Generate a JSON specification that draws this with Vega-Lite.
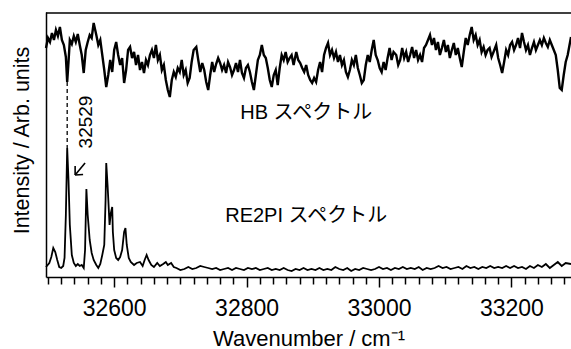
{
  "$schema": "https://vega.github.io/schema/vega-lite/v6.json",
  "width": 525,
  "height": 265,
  "autosize": {"type": "none"},
  "padding": {"left": 46, "top": 12, "right": 0, "bottom": 72},
  "background": "white",
  "config": {
    "view": {"stroke": null},
    "font": "Liberation Sans, Noto Sans CJK JP",
    "axis": {"grid": false, "labelColor": "black", "titleColor": "black", "tickColor": "black", "domainColor": "black", "titleFontWeight": "normal", "labelFont": "Liberation Sans", "titleFont": "Liberation Sans"}
  },
  "datasets": {
    "hb": [
      {"wavenumber": 32497, "intensity": 229}, {"wavenumber": 32500, "intensity": 239}, {"wavenumber": 32503, "intensity": 235}, {"wavenumber": 32506, "intensity": 244},
      {"wavenumber": 32509, "intensity": 237}, {"wavenumber": 32512, "intensity": 247}, {"wavenumber": 32515, "intensity": 241}, {"wavenumber": 32518, "intensity": 250},
      {"wavenumber": 32521, "intensity": 237}, {"wavenumber": 32524, "intensity": 232}, {"wavenumber": 32527, "intensity": 220}, {"wavenumber": 32529, "intensity": 195},
      {"wavenumber": 32531, "intensity": 215}, {"wavenumber": 32533, "intensity": 237}, {"wavenumber": 32536, "intensity": 233}, {"wavenumber": 32539, "intensity": 241},
      {"wavenumber": 32542, "intensity": 235}, {"wavenumber": 32545, "intensity": 243}, {"wavenumber": 32548, "intensity": 232}, {"wavenumber": 32551, "intensity": 222},
      {"wavenumber": 32554, "intensity": 204}, {"wavenumber": 32557, "intensity": 227}, {"wavenumber": 32560, "intensity": 235}, {"wavenumber": 32563, "intensity": 242},
      {"wavenumber": 32566, "intensity": 239}, {"wavenumber": 32569, "intensity": 254}, {"wavenumber": 32573, "intensity": 242}, {"wavenumber": 32576, "intensity": 232},
      {"wavenumber": 32579, "intensity": 237}, {"wavenumber": 32582, "intensity": 222}, {"wavenumber": 32585, "intensity": 207}, {"wavenumber": 32588, "intensity": 190},
      {"wavenumber": 32591, "intensity": 202}, {"wavenumber": 32594, "intensity": 217}, {"wavenumber": 32597, "intensity": 205}, {"wavenumber": 32600, "intensity": 227},
      {"wavenumber": 32603, "intensity": 235}, {"wavenumber": 32606, "intensity": 222}, {"wavenumber": 32609, "intensity": 212}, {"wavenumber": 32612, "intensity": 219},
      {"wavenumber": 32615, "intensity": 194}, {"wavenumber": 32618, "intensity": 207}, {"wavenumber": 32621, "intensity": 227}, {"wavenumber": 32624, "intensity": 230},
      {"wavenumber": 32627, "intensity": 219}, {"wavenumber": 32630, "intensity": 225}, {"wavenumber": 32633, "intensity": 212}, {"wavenumber": 32636, "intensity": 222},
      {"wavenumber": 32639, "intensity": 207}, {"wavenumber": 32642, "intensity": 215}, {"wavenumber": 32645, "intensity": 204}, {"wavenumber": 32648, "intensity": 217},
      {"wavenumber": 32651, "intensity": 212}, {"wavenumber": 32654, "intensity": 222}, {"wavenumber": 32657, "intensity": 227}, {"wavenumber": 32660, "intensity": 219},
      {"wavenumber": 32663, "intensity": 232}, {"wavenumber": 32666, "intensity": 217}, {"wavenumber": 32669, "intensity": 222}, {"wavenumber": 32672, "intensity": 207},
      {"wavenumber": 32675, "intensity": 212}, {"wavenumber": 32678, "intensity": 197}, {"wavenumber": 32681, "intensity": 187}, {"wavenumber": 32684, "intensity": 180},
      {"wavenumber": 32687, "intensity": 197}, {"wavenumber": 32690, "intensity": 205}, {"wavenumber": 32693, "intensity": 200}, {"wavenumber": 32696, "intensity": 209},
      {"wavenumber": 32699, "intensity": 205}, {"wavenumber": 32702, "intensity": 217}, {"wavenumber": 32705, "intensity": 202}, {"wavenumber": 32708, "intensity": 207},
      {"wavenumber": 32711, "intensity": 194}, {"wavenumber": 32714, "intensity": 199}, {"wavenumber": 32717, "intensity": 215}, {"wavenumber": 32720, "intensity": 227},
      {"wavenumber": 32724, "intensity": 230}, {"wavenumber": 32727, "intensity": 217}, {"wavenumber": 32730, "intensity": 205}, {"wavenumber": 32733, "intensity": 214},
      {"wavenumber": 32736, "intensity": 207}, {"wavenumber": 32739, "intensity": 195}, {"wavenumber": 32742, "intensity": 187}, {"wavenumber": 32745, "intensity": 202},
      {"wavenumber": 32748, "intensity": 215}, {"wavenumber": 32751, "intensity": 205}, {"wavenumber": 32754, "intensity": 213}, {"wavenumber": 32757, "intensity": 219},
      {"wavenumber": 32760, "intensity": 214}, {"wavenumber": 32763, "intensity": 207}, {"wavenumber": 32766, "intensity": 212}, {"wavenumber": 32769, "intensity": 204},
      {"wavenumber": 32772, "intensity": 215}, {"wavenumber": 32775, "intensity": 210}, {"wavenumber": 32778, "intensity": 202}, {"wavenumber": 32781, "intensity": 207},
      {"wavenumber": 32784, "intensity": 214}, {"wavenumber": 32787, "intensity": 205}, {"wavenumber": 32790, "intensity": 217}, {"wavenumber": 32793, "intensity": 204},
      {"wavenumber": 32796, "intensity": 199}, {"wavenumber": 32799, "intensity": 209}, {"wavenumber": 32802, "intensity": 212}, {"wavenumber": 32805, "intensity": 205},
      {"wavenumber": 32808, "intensity": 195}, {"wavenumber": 32811, "intensity": 187}, {"wavenumber": 32814, "intensity": 202}, {"wavenumber": 32817, "intensity": 217},
      {"wavenumber": 32820, "intensity": 222}, {"wavenumber": 32823, "intensity": 232}, {"wavenumber": 32826, "intensity": 222}, {"wavenumber": 32829, "intensity": 219},
      {"wavenumber": 32832, "intensity": 209}, {"wavenumber": 32835, "intensity": 197}, {"wavenumber": 32838, "intensity": 190}, {"wavenumber": 32841, "intensity": 202},
      {"wavenumber": 32844, "intensity": 207}, {"wavenumber": 32847, "intensity": 192}, {"wavenumber": 32850, "intensity": 209}, {"wavenumber": 32853, "intensity": 222},
      {"wavenumber": 32856, "intensity": 217}, {"wavenumber": 32859, "intensity": 225}, {"wavenumber": 32862, "intensity": 215}, {"wavenumber": 32865, "intensity": 219},
      {"wavenumber": 32868, "intensity": 222}, {"wavenumber": 32871, "intensity": 212}, {"wavenumber": 32875, "intensity": 225}, {"wavenumber": 32878, "intensity": 217},
      {"wavenumber": 32881, "intensity": 214}, {"wavenumber": 32884, "intensity": 209}, {"wavenumber": 32887, "intensity": 205}, {"wavenumber": 32890, "intensity": 212},
      {"wavenumber": 32893, "intensity": 202}, {"wavenumber": 32896, "intensity": 197}, {"wavenumber": 32899, "intensity": 194}, {"wavenumber": 32902, "intensity": 199},
      {"wavenumber": 32905, "intensity": 195}, {"wavenumber": 32908, "intensity": 207}, {"wavenumber": 32911, "intensity": 215}, {"wavenumber": 32914, "intensity": 205},
      {"wavenumber": 32917, "intensity": 222}, {"wavenumber": 32920, "intensity": 229}, {"wavenumber": 32923, "intensity": 234}, {"wavenumber": 32926, "intensity": 222},
      {"wavenumber": 32929, "intensity": 227}, {"wavenumber": 32932, "intensity": 219}, {"wavenumber": 32935, "intensity": 225}, {"wavenumber": 32938, "intensity": 215},
      {"wavenumber": 32941, "intensity": 222}, {"wavenumber": 32944, "intensity": 212}, {"wavenumber": 32947, "intensity": 217}, {"wavenumber": 32950, "intensity": 205},
      {"wavenumber": 32953, "intensity": 200}, {"wavenumber": 32956, "intensity": 207}, {"wavenumber": 32959, "intensity": 217}, {"wavenumber": 32962, "intensity": 212},
      {"wavenumber": 32965, "intensity": 222}, {"wavenumber": 32968, "intensity": 209}, {"wavenumber": 32971, "intensity": 202}, {"wavenumber": 32974, "intensity": 194},
      {"wavenumber": 32977, "intensity": 197}, {"wavenumber": 32980, "intensity": 212}, {"wavenumber": 32983, "intensity": 222}, {"wavenumber": 32986, "intensity": 215},
      {"wavenumber": 32989, "intensity": 227}, {"wavenumber": 32992, "intensity": 237}, {"wavenumber": 32995, "intensity": 222}, {"wavenumber": 32998, "intensity": 217},
      {"wavenumber": 33001, "intensity": 209}, {"wavenumber": 33004, "intensity": 205}, {"wavenumber": 33007, "intensity": 215}, {"wavenumber": 33010, "intensity": 207},
      {"wavenumber": 33013, "intensity": 219}, {"wavenumber": 33016, "intensity": 229}, {"wavenumber": 33019, "intensity": 217}, {"wavenumber": 33022, "intensity": 225},
      {"wavenumber": 33026, "intensity": 222}, {"wavenumber": 33029, "intensity": 212}, {"wavenumber": 33032, "intensity": 217}, {"wavenumber": 33035, "intensity": 229},
      {"wavenumber": 33038, "intensity": 219}, {"wavenumber": 33041, "intensity": 225}, {"wavenumber": 33044, "intensity": 215}, {"wavenumber": 33047, "intensity": 222},
      {"wavenumber": 33050, "intensity": 230}, {"wavenumber": 33053, "intensity": 219}, {"wavenumber": 33056, "intensity": 227}, {"wavenumber": 33059, "intensity": 217},
      {"wavenumber": 33062, "intensity": 222}, {"wavenumber": 33065, "intensity": 215}, {"wavenumber": 33068, "intensity": 229}, {"wavenumber": 33071, "intensity": 232},
      {"wavenumber": 33074, "intensity": 237}, {"wavenumber": 33077, "intensity": 242}, {"wavenumber": 33080, "intensity": 232}, {"wavenumber": 33083, "intensity": 239},
      {"wavenumber": 33086, "intensity": 227}, {"wavenumber": 33089, "intensity": 235}, {"wavenumber": 33092, "intensity": 222}, {"wavenumber": 33095, "intensity": 229},
      {"wavenumber": 33098, "intensity": 237}, {"wavenumber": 33101, "intensity": 225}, {"wavenumber": 33104, "intensity": 232}, {"wavenumber": 33107, "intensity": 219},
      {"wavenumber": 33110, "intensity": 227}, {"wavenumber": 33113, "intensity": 234}, {"wavenumber": 33116, "intensity": 222}, {"wavenumber": 33119, "intensity": 229},
      {"wavenumber": 33122, "intensity": 219}, {"wavenumber": 33125, "intensity": 210}, {"wavenumber": 33128, "intensity": 225}, {"wavenumber": 33131, "intensity": 239},
      {"wavenumber": 33134, "intensity": 232}, {"wavenumber": 33137, "intensity": 242}, {"wavenumber": 33140, "intensity": 250}, {"wavenumber": 33143, "intensity": 237},
      {"wavenumber": 33146, "intensity": 242}, {"wavenumber": 33149, "intensity": 232}, {"wavenumber": 33152, "intensity": 237}, {"wavenumber": 33155, "intensity": 225},
      {"wavenumber": 33158, "intensity": 230}, {"wavenumber": 33161, "intensity": 222}, {"wavenumber": 33164, "intensity": 227}, {"wavenumber": 33167, "intensity": 229},
      {"wavenumber": 33170, "intensity": 220}, {"wavenumber": 33173, "intensity": 225}, {"wavenumber": 33177, "intensity": 232}, {"wavenumber": 33180, "intensity": 219},
      {"wavenumber": 33183, "intensity": 212}, {"wavenumber": 33186, "intensity": 204}, {"wavenumber": 33189, "intensity": 215}, {"wavenumber": 33192, "intensity": 227},
      {"wavenumber": 33195, "intensity": 222}, {"wavenumber": 33198, "intensity": 232}, {"wavenumber": 33201, "intensity": 235}, {"wavenumber": 33204, "intensity": 227},
      {"wavenumber": 33207, "intensity": 232}, {"wavenumber": 33210, "intensity": 239}, {"wavenumber": 33213, "intensity": 229}, {"wavenumber": 33216, "intensity": 244},
      {"wavenumber": 33219, "intensity": 235}, {"wavenumber": 33222, "intensity": 227}, {"wavenumber": 33225, "intensity": 232}, {"wavenumber": 33228, "intensity": 222},
      {"wavenumber": 33231, "intensity": 229}, {"wavenumber": 33234, "intensity": 235}, {"wavenumber": 33237, "intensity": 227}, {"wavenumber": 33240, "intensity": 232},
      {"wavenumber": 33243, "intensity": 237}, {"wavenumber": 33246, "intensity": 232}, {"wavenumber": 33249, "intensity": 239}, {"wavenumber": 33252, "intensity": 234},
      {"wavenumber": 33255, "intensity": 230}, {"wavenumber": 33258, "intensity": 237}, {"wavenumber": 33261, "intensity": 232}, {"wavenumber": 33264, "intensity": 227},
      {"wavenumber": 33267, "intensity": 222}, {"wavenumber": 33270, "intensity": 207}, {"wavenumber": 33273, "intensity": 189}, {"wavenumber": 33276, "intensity": 187},
      {"wavenumber": 33279, "intensity": 202}, {"wavenumber": 33282, "intensity": 215}, {"wavenumber": 33285, "intensity": 222}, {"wavenumber": 33290, "intensity": 240}
    ],
    "re2pi": [
      {"wavenumber": 32497, "intensity": 10}, {"wavenumber": 32502, "intensity": 14}, {"wavenumber": 32505, "intensity": 20}, {"wavenumber": 32508, "intensity": 29},
      {"wavenumber": 32511, "intensity": 25}, {"wavenumber": 32514, "intensity": 17}, {"wavenumber": 32517, "intensity": 10}, {"wavenumber": 32520, "intensity": 9},
      {"wavenumber": 32523, "intensity": 11}, {"wavenumber": 32525, "intensity": 19}, {"wavenumber": 32527, "intensity": 62}, {"wavenumber": 32529, "intensity": 129},
      {"wavenumber": 32531, "intensity": 97}, {"wavenumber": 32533, "intensity": 52}, {"wavenumber": 32536, "intensity": 22}, {"wavenumber": 32539, "intensity": 14},
      {"wavenumber": 32542, "intensity": 11}, {"wavenumber": 32545, "intensity": 13}, {"wavenumber": 32548, "intensity": 11}, {"wavenumber": 32551, "intensity": 12},
      {"wavenumber": 32554, "intensity": 9}, {"wavenumber": 32556, "intensity": 27}, {"wavenumber": 32558, "intensity": 88}, {"wavenumber": 32560, "intensity": 62},
      {"wavenumber": 32563, "intensity": 37}, {"wavenumber": 32566, "intensity": 24}, {"wavenumber": 32569, "intensity": 17}, {"wavenumber": 32573, "intensity": 12},
      {"wavenumber": 32576, "intensity": 9}, {"wavenumber": 32579, "intensity": 13}, {"wavenumber": 32582, "intensity": 22}, {"wavenumber": 32585, "intensity": 32},
      {"wavenumber": 32587, "intensity": 77}, {"wavenumber": 32588, "intensity": 114}, {"wavenumber": 32590, "intensity": 92}, {"wavenumber": 32591, "intensity": 79},
      {"wavenumber": 32593, "intensity": 52}, {"wavenumber": 32595, "intensity": 64}, {"wavenumber": 32597, "intensity": 70}, {"wavenumber": 32598, "intensity": 45},
      {"wavenumber": 32600, "intensity": 27}, {"wavenumber": 32603, "intensity": 19}, {"wavenumber": 32606, "intensity": 17}, {"wavenumber": 32609, "intensity": 20},
      {"wavenumber": 32612, "intensity": 27}, {"wavenumber": 32615, "intensity": 45}, {"wavenumber": 32617, "intensity": 49}, {"wavenumber": 32619, "intensity": 32},
      {"wavenumber": 32622, "intensity": 19}, {"wavenumber": 32625, "intensity": 15}, {"wavenumber": 32630, "intensity": 12}, {"wavenumber": 32634, "intensity": 14},
      {"wavenumber": 32639, "intensity": 15}, {"wavenumber": 32643, "intensity": 11}, {"wavenumber": 32646, "intensity": 17}, {"wavenumber": 32649, "intensity": 22},
      {"wavenumber": 32652, "intensity": 17}, {"wavenumber": 32656, "intensity": 12}, {"wavenumber": 32660, "intensity": 10}, {"wavenumber": 32665, "intensity": 14},
      {"wavenumber": 32669, "intensity": 11}, {"wavenumber": 32674, "intensity": 13}, {"wavenumber": 32678, "intensity": 15}, {"wavenumber": 32681, "intensity": 12},
      {"wavenumber": 32686, "intensity": 14}, {"wavenumber": 32690, "intensity": 10}, {"wavenumber": 32694, "intensity": 9}, {"wavenumber": 32700, "intensity": 7},
      {"wavenumber": 32706, "intensity": 8}, {"wavenumber": 32712, "intensity": 10}, {"wavenumber": 32718, "intensity": 8}, {"wavenumber": 32724, "intensity": 9},
      {"wavenumber": 32730, "intensity": 11}, {"wavenumber": 32736, "intensity": 10}, {"wavenumber": 32742, "intensity": 9}, {"wavenumber": 32748, "intensity": 8},
      {"wavenumber": 32754, "intensity": 9}, {"wavenumber": 32760, "intensity": 7}, {"wavenumber": 32766, "intensity": 8}, {"wavenumber": 32772, "intensity": 9},
      {"wavenumber": 32778, "intensity": 7}, {"wavenumber": 32784, "intensity": 9}, {"wavenumber": 32790, "intensity": 8}, {"wavenumber": 32796, "intensity": 7},
      {"wavenumber": 32802, "intensity": 9}, {"wavenumber": 32808, "intensity": 8}, {"wavenumber": 32814, "intensity": 9}, {"wavenumber": 32820, "intensity": 7},
      {"wavenumber": 32826, "intensity": 8}, {"wavenumber": 32832, "intensity": 9}, {"wavenumber": 32838, "intensity": 7}, {"wavenumber": 32844, "intensity": 8},
      {"wavenumber": 32850, "intensity": 7}, {"wavenumber": 32856, "intensity": 9}, {"wavenumber": 32862, "intensity": 7}, {"wavenumber": 32868, "intensity": 6},
      {"wavenumber": 32874, "intensity": 8}, {"wavenumber": 32880, "intensity": 7}, {"wavenumber": 32886, "intensity": 9}, {"wavenumber": 32892, "intensity": 7},
      {"wavenumber": 32898, "intensity": 8}, {"wavenumber": 32904, "intensity": 7}, {"wavenumber": 32910, "intensity": 9}, {"wavenumber": 32916, "intensity": 7},
      {"wavenumber": 32922, "intensity": 8}, {"wavenumber": 32928, "intensity": 7}, {"wavenumber": 32934, "intensity": 10}, {"wavenumber": 32940, "intensity": 8},
      {"wavenumber": 32946, "intensity": 7}, {"wavenumber": 32952, "intensity": 9}, {"wavenumber": 32958, "intensity": 6}, {"wavenumber": 32964, "intensity": 8},
      {"wavenumber": 32970, "intensity": 7}, {"wavenumber": 32976, "intensity": 9}, {"wavenumber": 32982, "intensity": 8}, {"wavenumber": 32988, "intensity": 7},
      {"wavenumber": 32994, "intensity": 8}, {"wavenumber": 33000, "intensity": 10}, {"wavenumber": 33006, "intensity": 8}, {"wavenumber": 33012, "intensity": 9},
      {"wavenumber": 33018, "intensity": 7}, {"wavenumber": 33024, "intensity": 9}, {"wavenumber": 33030, "intensity": 8}, {"wavenumber": 33036, "intensity": 10},
      {"wavenumber": 33042, "intensity": 8}, {"wavenumber": 33048, "intensity": 9}, {"wavenumber": 33054, "intensity": 8}, {"wavenumber": 33060, "intensity": 10},
      {"wavenumber": 33066, "intensity": 7}, {"wavenumber": 33072, "intensity": 9}, {"wavenumber": 33078, "intensity": 8}, {"wavenumber": 33084, "intensity": 9},
      {"wavenumber": 33090, "intensity": 11}, {"wavenumber": 33096, "intensity": 9}, {"wavenumber": 33102, "intensity": 10}, {"wavenumber": 33108, "intensity": 8},
      {"wavenumber": 33114, "intensity": 9}, {"wavenumber": 33120, "intensity": 10}, {"wavenumber": 33126, "intensity": 8}, {"wavenumber": 33132, "intensity": 11},
      {"wavenumber": 33138, "intensity": 9}, {"wavenumber": 33144, "intensity": 10}, {"wavenumber": 33150, "intensity": 8}, {"wavenumber": 33156, "intensity": 10},
      {"wavenumber": 33162, "intensity": 9}, {"wavenumber": 33168, "intensity": 11}, {"wavenumber": 33174, "intensity": 9}, {"wavenumber": 33180, "intensity": 10},
      {"wavenumber": 33186, "intensity": 9}, {"wavenumber": 33192, "intensity": 11}, {"wavenumber": 33198, "intensity": 9}, {"wavenumber": 33204, "intensity": 11},
      {"wavenumber": 33210, "intensity": 9}, {"wavenumber": 33216, "intensity": 10}, {"wavenumber": 33222, "intensity": 8}, {"wavenumber": 33228, "intensity": 11},
      {"wavenumber": 33234, "intensity": 9}, {"wavenumber": 33240, "intensity": 12}, {"wavenumber": 33246, "intensity": 10}, {"wavenumber": 33252, "intensity": 13},
      {"wavenumber": 33258, "intensity": 9}, {"wavenumber": 33264, "intensity": 12}, {"wavenumber": 33270, "intensity": 15}, {"wavenumber": 33276, "intensity": 11},
      {"wavenumber": 33282, "intensity": 14}, {"wavenumber": 33290, "intensity": 13}
    ],
    "guides": [
      {"x": 32529, "y": 195, "x2": 32529, "y2": 129, "kind": "dashed"},
      {"x": 32556, "y": 114, "x2": 32541, "y2": 102, "kind": "arrow"},
      {"x": 32541, "y": 102, "x2": 32541, "y2": 111, "kind": "arrow"},
      {"x": 32541, "y": 102, "x2": 32553, "y2": 102.5, "kind": "arrow"},
      {"x": 32497, "y": 264, "x2": 33290, "y2": 264, "kind": "arrow"}
    ],
    "labels": [
      {"x": 32890, "y": 164, "text": "HB スペクトル"},
      {"x": 32890, "y": 61, "text": "RE2PI スペクトル"}
    ],
    "peak": [
      {"x": 32557, "y": 155, "text": "32529"}
    ]
  },
  "layer": [
    {
      "data": {"name": "hb"},
      "mark": {"type": "line", "color": "black", "strokeWidth": 2.4},
      "encoding": {
        "x": {"field": "wavenumber", "type": "quantitative",
          "scale": {"domain": [32497, 33290], "nice": false, "zero": false},
          "axis": {"orient": "bottom", "values": [32600, 32800, 33000, 33200], "format": "d", "tickSize": 10, "tickWidth": 1.5, "domainWidth": 1.5, "labelFontSize": 23, "labelPadding": 10, "title": "Wavenumber / cm⁻¹", "titleFontSize": 22, "titlePadding": 8}},
        "y": {"field": "intensity", "type": "quantitative",
          "scale": {"domain": [0, 265], "nice": false, "zero": false},
          "axis": {"ticks": false, "labels": false, "domainWidth": 1.5, "title": "Intensity / Arb. units", "titleFontSize": 21.5, "titlePadding": 13, "titleY": 128}}
      }
    },
    {
      "data": {"name": "re2pi"},
      "mark": {"type": "line", "color": "black", "strokeWidth": 1.8},
      "encoding": {
        "x": {"field": "wavenumber", "type": "quantitative",
          "axis": {"orient": "bottom", "values": [32500,32520,32540,32560,32580,32620,32640,32660,32680,32700,32720,32740,32760,32780,32820,32840,32860,32880,32900,32920,32940,32960,32980,33020,33040,33060,33080,33100,33120,33140,33160,33180,33220,33240,33260,33280], "tickSize": 7, "tickWidth": 1.5, "domain": false, "labels": false, "title": null}},
        "y": {"field": "intensity", "type": "quantitative", "axis": null}
      }
    },
    {
      "data": {"name": "guides"},
      "transform": [{"filter": "datum.kind === 'dashed'"}],
      "mark": {"type": "rule", "color": "black", "strokeWidth": 1.3, "strokeDash": [4, 3]},
      "encoding": {
        "x": {"field": "x", "type": "quantitative", "axis": null},
        "x2": {"field": "x2"},
        "y": {"field": "y", "type": "quantitative", "axis": null},
        "y2": {"field": "y2"}
      }
    },
    {
      "data": {"name": "guides"},
      "transform": [{"filter": "datum.kind === 'arrow'"}],
      "mark": {"type": "rule", "color": "black", "strokeWidth": 1.6},
      "encoding": {
        "x": {"field": "x", "type": "quantitative", "axis": null},
        "x2": {"field": "x2"},
        "y": {"field": "y", "type": "quantitative", "axis": null},
        "y2": {"field": "y2"}
      }
    },
    {
      "data": {"name": "labels"},
      "mark": {"type": "text", "fontSize": 20, "color": "black", "align": "center", "baseline": "middle", "font": "Liberation Sans, Noto Sans CJK JP"},
      "encoding": {
        "x": {"field": "x", "type": "quantitative", "axis": null},
        "y": {"field": "y", "type": "quantitative", "axis": null},
        "text": {"field": "text"}
      }
    },
    {
      "data": {"name": "peak"},
      "mark": {"type": "text", "fontSize": 19, "color": "black", "align": "center", "baseline": "middle", "angle": 270, "font": "Liberation Sans"},
      "encoding": {
        "x": {"field": "x", "type": "quantitative", "axis": null},
        "y": {"field": "y", "type": "quantitative", "axis": null},
        "text": {"field": "text"}
      }
    }
  ],
  "resolve": {"axis": {"x": "independent", "y": "independent"}}
}
